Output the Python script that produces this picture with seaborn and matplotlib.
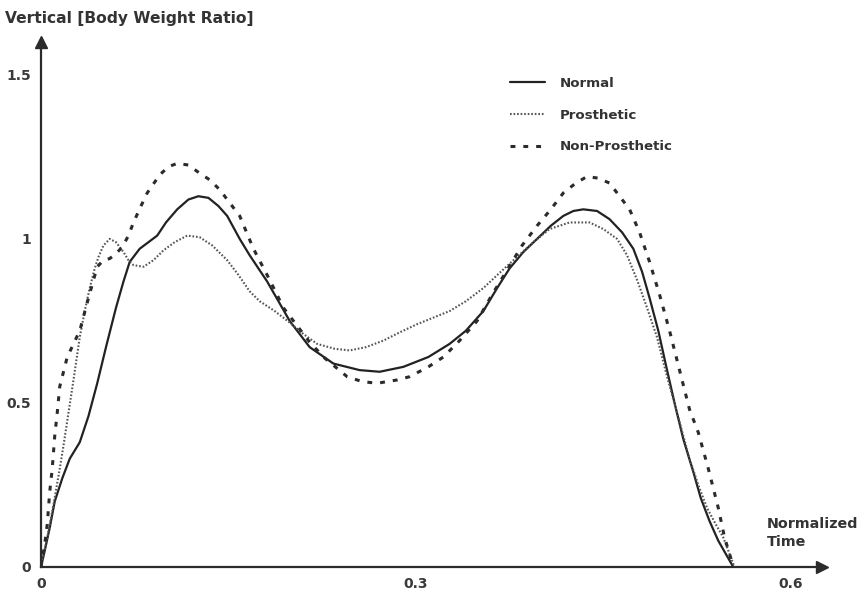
import numpy as np
import pandas as pd
import matplotlib
matplotlib.use("Agg")
import matplotlib.pyplot as plt
import seaborn as sns

# data (x = normalized time, y = body weight ratio)
normal_x = [0.000, 0.003, 0.007, 0.011, 0.017, 0.023, 0.031, 0.038, 0.045, 0.052,
            0.060, 0.066, 0.071, 0.079, 0.086, 0.093, 0.100, 0.109, 0.118, 0.126,
            0.134, 0.142, 0.149, 0.159, 0.167, 0.181, 0.199, 0.215, 0.234, 0.255,
            0.271, 0.290, 0.310, 0.327, 0.340, 0.354, 0.365, 0.375, 0.386, 0.397,
            0.408, 0.418, 0.426, 0.434, 0.445, 0.455, 0.465, 0.474, 0.481, 0.487,
            0.494, 0.501, 0.507, 0.514, 0.522, 0.528, 0.535, 0.542, 0.548, 0.554]
normal_y = [0.00, 0.05, 0.12, 0.20, 0.27, 0.33, 0.38, 0.46, 0.56, 0.67,
            0.79, 0.87, 0.93, 0.97, 0.99, 1.01, 1.05, 1.09, 1.12, 1.13,
            1.125, 1.10, 1.07, 1.00, 0.95, 0.87, 0.75, 0.67, 0.62, 0.60,
            0.595, 0.61, 0.64, 0.68, 0.72, 0.78, 0.85, 0.91, 0.96, 1.00,
            1.04, 1.07, 1.085, 1.09, 1.085, 1.06, 1.02, 0.97, 0.90, 0.82,
            0.72, 0.60, 0.50, 0.39, 0.29, 0.21, 0.14, 0.08, 0.04, 0.00]

prosth_x = [0.000, 0.005, 0.010, 0.015, 0.018, 0.022, 0.026, 0.031, 0.035, 0.039,
            0.043, 0.046, 0.050, 0.055, 0.060, 0.066, 0.070, 0.074, 0.082, 0.090,
            0.098, 0.107, 0.117, 0.127, 0.137, 0.149, 0.158, 0.167, 0.175, 0.187,
            0.199, 0.210, 0.221, 0.235, 0.247, 0.260, 0.274, 0.287, 0.301, 0.314,
            0.327, 0.340, 0.354, 0.368, 0.381, 0.394, 0.407, 0.423, 0.439, 0.450,
            0.461, 0.469, 0.477, 0.485, 0.493, 0.501, 0.509, 0.519, 0.526, 0.533,
            0.540, 0.546, 0.550, 0.553, 0.555]
prosth_y = [0.00, 0.09, 0.19, 0.30, 0.37, 0.47, 0.57, 0.70, 0.78, 0.85,
            0.91, 0.945, 0.98, 1.00, 0.99, 0.96, 0.935, 0.92, 0.915, 0.935,
            0.965, 0.99, 1.01, 1.005, 0.98, 0.935, 0.89, 0.84, 0.81, 0.78,
            0.745, 0.71, 0.68, 0.665, 0.66, 0.67, 0.69, 0.715, 0.74, 0.76,
            0.78, 0.81, 0.85, 0.90, 0.945, 0.99, 1.03, 1.05, 1.05, 1.03,
            1.00, 0.95, 0.875, 0.79, 0.70, 0.58, 0.47, 0.33, 0.25, 0.18,
            0.13, 0.09, 0.05, 0.02, 0.00]

nonpro_x = [0.000, 0.003, 0.005, 0.007, 0.009, 0.011, 0.013, 0.015, 0.021, 0.026,
            0.031, 0.038, 0.045, 0.050, 0.055, 0.060, 0.065, 0.070, 0.074, 0.080,
            0.085, 0.095, 0.102, 0.109, 0.118, 0.127, 0.135, 0.143, 0.151, 0.159,
            0.170, 0.183, 0.194, 0.202, 0.214, 0.226, 0.245, 0.257, 0.269, 0.285,
            0.295, 0.310, 0.322, 0.335, 0.349, 0.361, 0.373, 0.385, 0.397, 0.408,
            0.418, 0.428, 0.437, 0.446, 0.455, 0.463, 0.471, 0.479, 0.487, 0.495,
            0.503, 0.511, 0.519, 0.526, 0.534, 0.542, 0.547, 0.551, 0.554]
nonpro_y = [0.00, 0.07, 0.13, 0.23, 0.30, 0.40, 0.47, 0.55, 0.64, 0.68,
            0.72, 0.82, 0.915, 0.935, 0.94, 0.955, 0.975, 1.01, 1.05, 1.10,
            1.14, 1.195, 1.22, 1.23, 1.225, 1.20, 1.18, 1.15, 1.11, 1.07,
            0.97, 0.875, 0.79, 0.75, 0.69, 0.64, 0.58, 0.565, 0.56, 0.57,
            0.58, 0.61, 0.64, 0.69, 0.75, 0.83, 0.905, 0.98, 1.04, 1.09,
            1.14, 1.17, 1.19, 1.185, 1.17, 1.13, 1.09, 1.02, 0.93, 0.83,
            0.72, 0.60, 0.48, 0.41, 0.30, 0.18, 0.09, 0.04, 0.00]

x_ticks = [0, 0.3, 0.6]
x_tick_labels = ["0", "0.3", "0.6"]
y_ticks = [0, 0.5, 1, 1.5]
y_tick_labels = ["0", "0.5", "1", "1.5"]

sns.set_style("white")
plt.rcParams["font.family"] = ["DejaVu Sans"]

ink = "#2b2b2b"
fig = plt.figure(figsize=(8.68, 5.94), dpi=100)
ax = fig.add_axes([41 / 868, 27 / 594, 781 / 868, 525 / 594])

sns.lineplot(x=normal_x, y=normal_y, ax=ax, color="#222222", lw=1.6,
             estimator=None, label="Normal")
sns.lineplot(x=prosth_x, y=prosth_y, ax=ax, color="#555555", lw=1.5,
             linestyle=(0, (0.8, 0.9)), estimator=None, label="Prosthetic")
sns.lineplot(x=nonpro_x, y=nonpro_y, ax=ax, color="#2b2b2b", lw=2.2,
             linestyle=(0, (1.6, 2.6)), estimator=None, label="Non-Prosthetic")

ax.set_xlim(0, 0.625)
ax.set_ylim(0, 1.6)

# axes: only left and bottom, with arrow heads
for s in ["top", "right"]:
    ax.spines[s].set_visible(False)
for s in ["left", "bottom"]:
    ax.spines[s].set_color(ink)
    ax.spines[s].set_linewidth(1.6)
ax.plot(0, 1, "^", color=ink, ms=9, transform=ax.transAxes, clip_on=False)
ax.plot(1, 0, ">", color=ink, ms=9, transform=ax.transAxes, clip_on=False)

ax.set_xticks(x_ticks)
ax.set_xticklabels(x_tick_labels)
ax.set_yticks(y_ticks)
ax.set_yticklabels(y_tick_labels)
ax.tick_params(axis="both", direction="out", length=4, width=1, color=ink,
               labelsize=10, labelcolor="#3a3a3a", pad=3)
for t in ax.get_xticklabels() + ax.get_yticklabels():
    t.set_fontweight("bold")
ax.set_xlabel("")
ax.set_ylabel("")

fig.text(5 / 868, 1 - 18 / 594, "Vertical [Body Weight Ratio]", fontsize=11.2,
         fontweight="bold", color="#333333", va="center", ha="left")
fig.text(767 / 868, 1 - 533 / 594, "Normalized\nTime", fontsize=10.3,
         fontweight="bold", color="#333333", va="center", ha="left",
         linespacing=1.3)

leg = ax.legend(loc="upper left", bbox_to_anchor=(498 / 868, 1 - 65 / 594),
                bbox_transform=fig.transFigure, frameon=False, fontsize=9.6,
                handlelength=2.6, labelspacing=1.4, handletextpad=1.1)
for t in leg.get_texts():
    t.set_fontweight("bold")
    t.set_color("#333333")

fig.savefig("out.png", dpi=100)
